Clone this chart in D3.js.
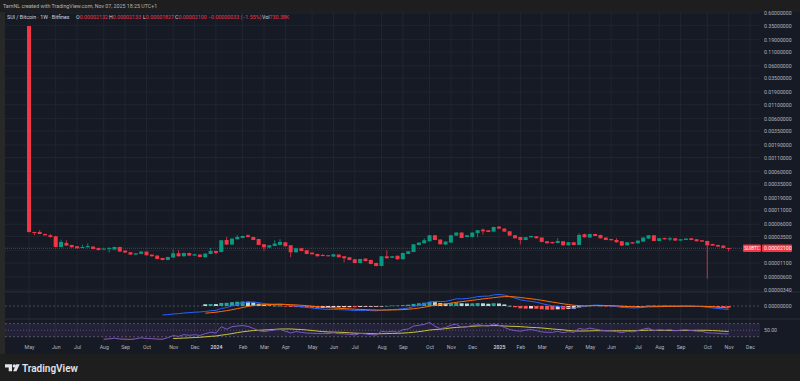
<!DOCTYPE html>
<meta charset="UTF-8">
<style>
  body { margin: 0; background: #1e1e1e; }
  svg { display: block; font-family: Roboto, "Liberation Sans", sans-serif; }
</style>
<body>
<script src="https://cdn.jsdelivr.net/npm/d3@7/dist/d3.min.js"></script>
<script>
// weekly SUI/BTC candles (Bitfinex), prices in satoshi (1e-8 BTC)
var weekStart = new Date(2023, 4, 1);

var opens = [34000000, 4275, 4275, 3916, 3702, 3544, 2222, 2646, 2425, 2291,
  2128, 2194, 2261, 2128, 2037, 2055, 1984, 2222, 1900, 1764,
  1596, 1638, 1819, 1596, 1528, 1375, 1261, 1400, 1689, 1482,
  1711, 1528, 1596, 1418, 1638, 1867, 1788, 3015, 2468, 3109,
  3291, 3702, 3437, 3150, 2500, 2165, 2321, 2425, 2728, 2393,
  1764, 2100, 1925, 1741, 1638, 1568, 1548, 1463, 1596, 1482,
  1418, 1300, 1106, 1340, 1261, 1106, 971, 1482, 1387, 1515,
  1300, 1638, 1788, 2425, 2612, 2850, 3702, 3069, 2468, 2693,
  3654, 4164, 3437, 3437, 4092, 4746, 4603, 4351, 5410, 4958,
  4408, 3702, 3437, 3015, 3393, 3544, 3349, 2850, 2764, 2646,
  2850, 2393, 2728, 2425, 3866, 3349, 3916, 3750, 3349, 3150,
  3015, 2850, 2393, 2728, 2612, 2813, 3206, 3702, 2887, 3291,
  3069, 3248, 2938, 3015, 3248, 3109, 2977, 2887, 2533, 2425,
  2362, 2132];
var highs = [34000000, 4300, 4603, 3950, 3916, 3580, 3069, 2977, 2450, 2310,
  2468, 2612, 2290, 2150, 2100, 2222, 2250, 2240, 1920, 1780,
  1710, 1840, 1830, 1610, 1540, 1390, 1450, 1984, 1925, 1730,
  1730, 1640, 1610, 1690, 2128, 1880, 3000, 3437, 3240, 3750,
  3630, 3866, 3460, 3170, 2520, 2420, 2977, 3109, 2750, 2410,
  2120, 2120, 1940, 1760, 1650, 1640, 1560, 1640, 1610, 1500,
  1430, 1320, 1335, 1360, 1280, 1120, 1500, 1925, 1500, 1530,
  1740, 1870, 2530, 2720, 3248, 3750, 3740, 3100, 2840, 3740,
  4200, 4200, 3740, 4200, 4640, 4958, 4640, 5360, 5450, 4990,
  4440, 3740, 3460, 3420, 3630, 3570, 3370, 2870, 2790, 3248,
  2870, 2760, 2750, 4038, 3985, 3950, 3950, 3780, 3370, 3170,
  3248, 2870, 2750, 2750, 2960, 3380, 3740, 3740, 3280, 3320,
  3437, 3270, 3130, 3230, 3270, 3130, 3000, 2910, 2560, 2450,
  2380, 2133];
var lows = [4150, 3720, 3880, 3680, 3349, 2200, 2200, 2340, 2170, 2080,
  2110, 2180, 2020, 1930, 2000, 1741, 1970, 1800, 1720, 1580,
  1580, 1620, 1530, 1465, 1300, 1245, 1245, 1385, 1465, 1465,
  1510, 1510, 1420, 1400, 1620, 1617, 1770, 2440, 2440, 3080,
  3260, 3400, 2990, 2400, 1867, 2140, 2300, 2400, 2270, 1418,
  1740, 1850, 1620, 1600, 1465, 1480, 1465, 1445, 1400, 1140,
  1245, 1090, 1090, 1190, 1045, 950, 950, 1340, 1370, 1285,
  1285, 1620, 1770, 2400, 2590, 2830, 2990, 2470, 2440, 2670,
  3620, 3260, 3400, 3349, 3393, 3816, 4240, 4320, 4920, 4320,
  3620, 3220, 2468, 2990, 3370, 3220, 2740, 2590, 2590, 2620,
  2370, 2370, 2400, 2400, 3370, 3320, 3570, 3220, 2990, 2950,
  2700, 2340, 2370, 2560, 2590, 2790, 3180, 2860, 2860, 3080,
  2887, 2910, 2910, 2990, 2990, 2830, 2790, 560, 2340, 2240,
  2110, 1827];
var closes = [4275, 4219, 3916, 3702, 3437, 2222, 2764, 2362, 2194, 2100,
  2222, 2321, 2037, 1950, 2073, 2115, 2222, 1819, 1741, 1596,
  1689, 1819, 1548, 1482, 1317, 1261, 1437, 1689, 1482, 1711,
  1528, 1617, 1437, 1667, 1867, 1711, 2977, 2468, 3206, 3437,
  3591, 3437, 3015, 2425, 2194, 2393, 2578, 2764, 2291, 1764,
  2100, 1867, 1638, 1617, 1482, 1501, 1482, 1617, 1418, 1358,
  1261, 1106, 1317, 1207, 1059, 971, 1482, 1358, 1482, 1300,
  1711, 1843, 2500, 2693, 2977, 3702, 3015, 2500, 2813, 3702,
  4164, 3291, 3702, 4164, 4603, 4408, 4275, 5316, 4958, 4351,
  3654, 3248, 3015, 3393, 3591, 3248, 2764, 2612, 2612, 2887,
  2393, 2728, 2425, 3750, 3393, 3916, 3591, 3248, 3015, 2977,
  2728, 2362, 2728, 2578, 2938, 3349, 3702, 2887, 3248, 3109,
  3248, 2938, 3109, 3206, 3015, 2850, 2813, 2393, 2362, 2261,
  2132, 2100];

var priceTicks = [0.6, 0.35, 0.19, 0.11, 0.06, 0.035, 0.019, 0.011, 0.006, 0.0035,
  0.0019, 0.0011, 0.0006, 0.00035, 0.00019, 0.00011, 0.00006, 0.000035, 0.000019,
  0.000011, 0.000006, 0.0000034];
var monthLabels = ["May", "Jun", "Jul", "Aug", "Sep", "Oct", "Nov", "Dec",
  "2024", "Feb", "Mar", "Apr", "May", "Jun", "Jul", "Aug", "Sep", "Oct", "Nov", "Dec",
  "2025", "Feb", "Mar", "Apr", "May", "Jun", "Jul", "Aug", "Sep", "Oct", "Nov", "Dec"];

var upColor = "#089981", downColor = "#f23645";
var gridColor = "#21252f", textColor = "#b2b5be";

var L = 5, R = 760,
  priceTop = 12, priceBottom = 292, macdBottom = 319, rsiBottom = 342, axisBottom = 354;

var svg = d3.select("body").append("svg")
  .attr("width", 800)
  .attr("height", 381);

svg.append("rect").attr("width", 800).attr("height", 381).attr("fill", "#1e1e1e");
svg.append("rect").attr("x", L).attr("y", priceTop).attr("width", 800 - L)
  .attr("height", axisBottom - priceTop).attr("fill", "#161a25");
svg.append("rect").attr("x", 0).attr("y", priceTop).attr("width", L)
  .attr("height", axisBottom - priceTop).attr("fill", "#282828");

// scales
var x = d3.scaleTime()
  .domain([new Date(2023, 4, 1), new Date(2025, 11, 1)])
  .range([29, 750]);
var y = d3.scaleLog()
  .domain([0.000006, 0.6])
  .range([277, 13]);

var bars = closes.map(function(c, i) {
  return {
    date: d3.timeMonday.offset(weekStart, i),
    o: opens[i] / 1e8, h: highs[i] / 1e8, l: lows[i] / 1e8, c: c / 1e8
  };
});

var monthDates = d3.timeMonth.range(new Date(2023, 4, 1), new Date(2026, 0, 1))
  .map(function(d) { return d3.timeMonday.ceil(d); });

// grid
var grid = svg.append("g");
grid.selectAll("line.v").data(monthDates).enter().append("line")
  .attr("x1", function(d) { return x(d); })
  .attr("x2", function(d) { return x(d); })
  .attr("y1", priceTop).attr("y2", rsiBottom)
  .attr("stroke", gridColor);
grid.selectAll("line.h").data(priceTicks).enter().append("line")
  .attr("x1", L).attr("x2", R)
  .attr("y1", function(d) { return y(d); })
  .attr("y2", function(d) { return y(d); })
  .attr("stroke", gridColor);
[priceBottom, macdBottom].forEach(function(v) {
  svg.append("line").attr("x1", L).attr("x2", 800).attr("y1", v).attr("y2", v)
    .attr("stroke", "#2a2e39");
});

// clip paths for panes
var defs = svg.append("defs");
function clip(id, y0, y1) {
  defs.append("clipPath").attr("id", id).append("rect")
    .attr("x", L).attr("y", y0).attr("width", R - L).attr("height", y1 - y0);
}
clip("cp-price", priceTop, priceBottom);
clip("cp-macd", priceBottom, macdBottom);
clip("cp-rsi", macdBottom, rsiBottom);

// price line
var last = bars[bars.length - 1];
svg.append("line")
  .attr("x1", L).attr("x2", 742)
  .attr("y1", y(last.c)).attr("y2", y(last.c))
  .attr("stroke", downColor).attr("stroke-opacity", 0.55)
  .attr("stroke-dasharray", "1,1");

// candles
var candles = svg.append("g").attr("clip-path", "url(#cp-price)")
  .selectAll("g").data(bars).enter().append("g");
candles.append("line")
  .attr("x1", function(d) { return x(d.date); })
  .attr("x2", function(d) { return x(d.date); })
  .attr("y1", function(d) { return y(d.h); })
  .attr("y2", function(d) { return y(d.l); })
  .attr("stroke", function(d) { return d.c >= d.o ? upColor : downColor; })
  .attr("stroke-width", 0.8);
candles.append("rect")
  .attr("x", function(d) { return x(d.date) - 2; })
  .attr("width", 4)
  .attr("y", function(d) { return y(Math.max(d.o, d.c)); })
  .attr("height", function(d) { return Math.max(1, Math.abs(y(d.o) - y(d.c))); })
  .attr("fill", function(d) { return d.c >= d.o ? upColor : downColor; });

// indicators
function ma(src, n, alpha) {
  var out = [], prev = null, buf = [];
  src.forEach(function(v) {
    if (v == null) { out.push(null); return; }
    if (prev == null) {
      buf.push(v);
      if (buf.length == n) prev = d3.mean(buf);
    } else {
      prev = alpha * v + (1 - alpha) * prev;
    }
    out.push(prev);
  });
  return out;
}
function ema(src, n) { return ma(src, n, 2 / (n + 1)); }
function rma(src, n) { return ma(src, n, 1 / n); }
function sma(src, n) {
  return src.map(function(v, i) {
    if (i < n - 1) return null;
    var s = src.slice(i - n + 1, i + 1);
    return s.some(function(t) { return t == null; }) ? null : d3.mean(s);
  });
}

var cl = bars.map(function(d) { return d.c; });
var e12 = ema(cl, 12), e26 = ema(cl, 26);
var macd = cl.map(function(d, i) { return e26[i] == null ? null : e12[i] - e26[i]; });
var signal = ema(macd, 9);
var hist = macd.map(function(d, i) { return signal[i] == null ? null : d - signal[i]; });

var ups = cl.map(function(d, i) { return i == 0 ? null : Math.max(d - cl[i - 1], 0); });
var dns = cl.map(function(d, i) { return i == 0 ? null : Math.max(cl[i - 1] - d, 0); });
var ru = rma(ups, 14), rd = rma(dns, 14);
var rsi = ru.map(function(u, i) {
  if (u == null) return null;
  if (rd[i] == 0) return 100;
  return 100 - 100 / (1 + u / rd[i]);
});
var rsiMa = sma(rsi, 14);

// MACD pane
var yM = d3.scaleLinear()
  .domain([0, d3.max(macd)])
  .range([306, 294.5]);
var gM = svg.append("g").attr("clip-path", "url(#cp-macd)");
gM.append("line").attr("x1", L).attr("x2", R).attr("y1", yM(0)).attr("y2", yM(0))
  .attr("stroke", "#787b86").attr("stroke-opacity", 0.5).attr("stroke-dasharray", "2,2");
gM.selectAll("rect").data(bars.filter(function(d, i) { return hist[i] != null; }))
  .enter().append("rect")
  .attr("x", function(d) { return x(d.date) - 2; })
  .attr("width", 4)
  .attr("y", function(d) { var h = hist[bars.indexOf(d)]; return Math.min(yM(0), yM(h)); })
  .attr("height", function(d) { var h = hist[bars.indexOf(d)]; return Math.max(0.6, Math.abs(yM(h) - yM(0))); })
  .attr("fill", function(d) {
    var i = bars.indexOf(d), h = hist[i], p = hist[i - 1] == null ? h : hist[i - 1];
    if (h >= 0) return p < h ? "#26a69a" : "#b2dfdb";
    return p < h ? "#ffcdd2" : "#ff5252";
  });
function seriesLine(sc, vals) {
  return d3.line()
    .defined(function(d, i) { return vals[i] != null; })
    .x(function(d) { return x(d.date); })
    .y(function(d, i) { return sc(vals[i]); })(bars);
}
gM.append("path").attr("d", seriesLine(yM, macd))
  .attr("fill", "none").attr("stroke", "#2962ff").attr("stroke-width", 1);
gM.append("path").attr("d", seriesLine(yM, signal))
  .attr("fill", "none").attr("stroke", "#ff6d00").attr("stroke-width", 1);

// RSI pane
var yR = d3.scaleLinear().domain([30, 70]).range([336.7, 323.7]);
var gR = svg.append("g").attr("clip-path", "url(#cp-rsi)");
gR.append("rect").attr("x", L).attr("width", R - L)
  .attr("y", yR(70)).attr("height", yR(30) - yR(70))
  .attr("fill", "rgba(126,87,194,0.12)");
[70, 50, 30].forEach(function(v) {
  gR.append("line").attr("x1", L).attr("x2", R).attr("y1", yR(v)).attr("y2", yR(v))
    .attr("stroke", "#787b86").attr("stroke-opacity", 0.6)
    .attr("stroke-dasharray", v == 50 ? "1,2" : "2,2");
});
function grad(id, c, from, to) {
  var g = defs.append("linearGradient").attr("id", id)
    .attr("gradientUnits", "userSpaceOnUse")
    .attr("x1", 0).attr("x2", 0).attr("y1", yR(from)).attr("y2", yR(to));
  g.append("stop").attr("offset", 0).attr("stop-color", c).attr("stop-opacity", 0);
  g.append("stop").attr("offset", 1).attr("stop-color", c).attr("stop-opacity", 1);
}
grad("g-ob", "#089981", 70, 100);
grad("g-os", "#f23645", 30, 0);
function band(level, above, fill) {
  var a = d3.area()
    .defined(function(d, i) { return rsi[i] != null; })
    .x(function(d) { return x(d.date); })
    .y0(yR(level))
    .y1(function(d, i) {
      var v = rsi[i];
      return yR(above ? Math.max(v, level) : Math.min(v, level));
    });
  gR.append("path").attr("d", a(bars)).attr("fill", fill);
}
band(70, true, "url(#g-ob)");
band(30, false, "url(#g-os)");
gR.append("path").attr("d", seriesLine(yR, rsiMa))
  .attr("fill", "none").attr("stroke", "#c9c43c").attr("stroke-width", 1);
gR.append("path").attr("d", seriesLine(yR, rsi))
  .attr("fill", "none").attr("stroke", "#7e57c2").attr("stroke-width", 1);

// price axis
var fmt = d3.format(".8f");
var yAxis = svg.append("g")
  .attr("transform", "translate(764,0)")
  .call(d3.axisRight(y).tickValues(priceTicks.filter(function(v) { return v != 0.000019; }))
    .tickFormat(fmt).tickSize(0).tickPadding(0));
yAxis.select(".domain").remove();
yAxis.selectAll("text").attr("fill", textColor).attr("font-size", 5.2)
  .attr("font-family", "Roboto, sans-serif");

svg.append("text").attr("x", 764).attr("y", yM(0)).attr("dy", "0.32em")
  .attr("fill", textColor).attr("font-size", 5.2).text("0.00000000");
svg.append("text").attr("x", 764).attr("y", yR(50)).attr("dy", "0.32em")
  .attr("fill", textColor).attr("font-size", 5.2).text("50.00");

// current price tags
var py = y(last.c);
svg.append("rect").attr("x", 743).attr("y", py - 3.7).attr("width", 18).attr("height", 7.4)
  .attr("rx", 1).attr("fill", downColor);
svg.append("text").attr("x", 752).attr("y", py).attr("dy", "0.35em")
  .attr("text-anchor", "middle").attr("fill", "#fff").attr("font-size", 4.6)
  .text("SUIBTC");
svg.append("rect").attr("x", 762).attr("y", py - 3.7).attr("width", 30).attr("height", 7.4)
  .attr("rx", 1).attr("fill", downColor);
svg.append("text").attr("x", 764).attr("y", py).attr("dy", "0.35em")
  .attr("fill", "#fff").attr("font-size", 5.2).text(fmt(last.c));

// time axis
var xAxis = svg.append("g")
  .attr("transform", "translate(0,345)")
  .call(d3.axisBottom(x).tickValues(monthDates)
    .tickFormat(function(d, i) { return monthLabels[i]; })
    .tickSize(0).tickPadding(0));
xAxis.select(".domain").remove();
xAxis.selectAll("text")
  .attr("fill", function(d, i) { return /^\d/.test(monthLabels[i]) ? "#d1d4dc" : textColor; })
  .attr("font-weight", function(d, i) { return /^\d/.test(monthLabels[i]) ? 600 : 400; })
  .attr("font-size", 5.2)
  .attr("font-family", "Roboto, sans-serif");

// header and legend
svg.append("text").attr("x", 3).attr("y", 7.5)
  .attr("fill", textColor).attr("font-size", 5.3)
  .text("TarnNL created with TradingView.com, Nov 07, 2025 18:25 UTC+1");

var legend = [
  { x: 7, label: "SUI / Bitcoin · 1W · Bitfinex", value: "" },
  { x: 76, label: "O", value: "0.00002132" },
  { x: 109, label: "H", value: "0.00002133" },
  { x: 143, label: "L", value: "0.00001827" },
  { x: 175, label: "C", value: "0.00002100" },
  { x: 208, label: "", value: "\u22120.00000033 (\u22121.55%)" },
  { x: 262, label: "Vol", value: "730.38K" }
];
legend.forEach(function(d) {
  var t = svg.append("text").attr("x", d.x).attr("y", 18.8).attr("font-size", 5.3);
  t.append("tspan").attr("fill", "#d1d4dc").text(d.label);
  t.append("tspan").attr("fill", downColor).text(d.value);
});

// footer logo
var logo = svg.append("g").attr("fill", "#e0e3eb");
logo.append("path").attr("d", "M5 364.2 h7 v7 h-3.3 v-3.6 h-3.7 z");
logo.append("circle").attr("cx", 14.3).attr("cy", 365.9).attr("r", 1.7);
logo.append("path").attr("d", "M16.3 364.2 h3.4 l-3.2 7 h-3.4 z");
svg.append("text").attr("x", 22).attr("y", 371.6)
  .attr("fill", "#e0e3eb").attr("font-size", 10).attr("font-weight", 600)
  .text("TradingView");
</script>
</body>
